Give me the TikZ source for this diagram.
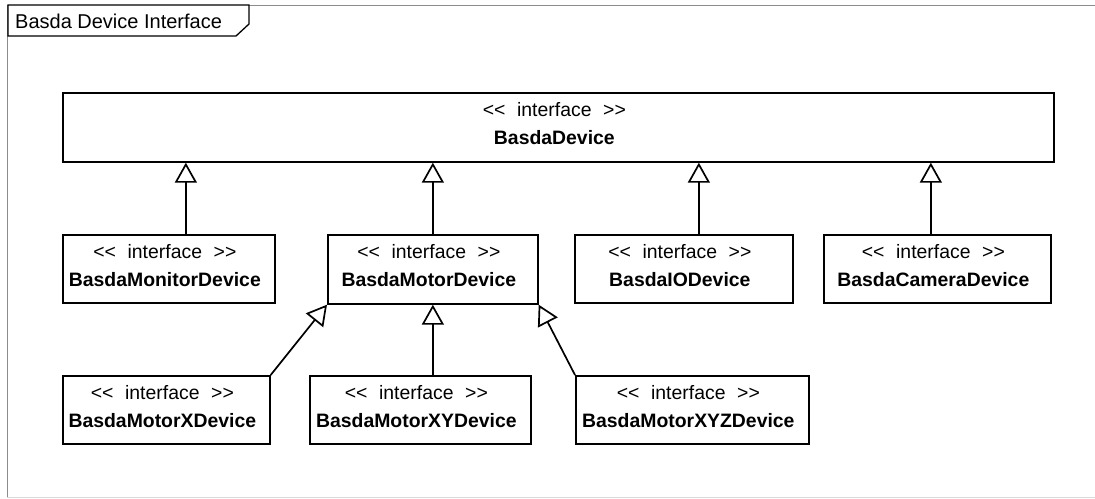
\documentclass[tikz,border=0pt]{standalone}
\usepackage{fontspec}
\setmainfont{Liberation Sans}
\usetikzlibrary{arrows.meta}
\tikzset{
  cls/.style={draw=black, line width=1.7pt, fill=white, rectangle, anchor=north west, inner sep=0pt},
  stereo/.style={anchor=base, inner sep=0pt, xshift=-4pt, font=\fontsize{19.4}{23}\selectfont},
  cname/.style={anchor=base, inner sep=0pt, xshift=-4pt, font=\fontsize{19.4}{23}\selectfont\bfseries},
  gen/.style={draw=black, line width=1.7pt, -{Triangle[open, length=20pt, width=22pt, line width=1.7pt]}},
}
\newcommand{\stereotxt}{<\kern0pt<\hspace{0.6em}interface\hspace{0.6em}>\kern0pt>}
\begin{document}
\begin{tikzpicture}[x=1pt, y=-1pt]
\useasboundingbox (0,0) rectangle (1095,498);
% frame
\draw[draw=black!45, line width=1pt] (1095,5) -- (7,5) -- (7,497);
\draw[draw=black!15, line width=1pt] (7,497) -- (1095,497);
\draw[line width=1.3pt, fill=white] (8,5) -- (249,5) -- (249,24) -- (236,36) -- (8,36) -- cycle;
\node[anchor=base west, inner sep=0pt, font=\fontsize{20}{24}\selectfont] (title) at (15,28) {Basda Device Interface};
% classes
\node[cls, minimum width=991, minimum height=69] (dev) at (62,92) {};
\node[stereo] (devs) at ([yshift=-24]dev.north) {\stereotxt};
\node[cname] (devn) at ([yshift=-52]dev.north) {BasdaDevice};

\node[cls, minimum width=212, minimum height=68] (mon) at (62,234) {};
\node[stereo] (mons) at ([yshift=-24]mon.north) {\stereotxt};
\node[cname] (monn) at ([yshift=-52]mon.north) {BasdaMonitorDevice};

\node[cls, minimum width=210, minimum height=69] (mot) at (327,234) {};
\node[stereo] (mots) at ([yshift=-24]mot.north) {\stereotxt};
\node[cname] (motn) at ([yshift=-52]mot.north) {BasdaMotorDevice};

\node[cls, minimum width=218, minimum height=68] (io) at (574,234) {};
\node[stereo] (ios) at ([yshift=-24]io.north) {\stereotxt};
\node[cname] (ion) at ([yshift=-52]io.north) {BasdaIODevice};

\node[cls, minimum width=227, minimum height=68] (cam) at (823,234) {};
\node[stereo] (cams) at ([yshift=-24]cam.north) {\stereotxt};
\node[cname] (camn) at ([yshift=-52]cam.north) {BasdaCameraDevice};

\node[cls, minimum width=207, minimum height=68] (mx) at (62,375) {};
\node[stereo] (mxs) at ([yshift=-24]mx.north) {\stereotxt};
\node[cname] (mxn) at ([yshift=-52]mx.north) {BasdaMotorXDevice};

\node[cls, minimum width=221, minimum height=68] (mxy) at (309,375) {};
\node[stereo] (mxys) at ([yshift=-24]mxy.north) {\stereotxt};
\node[cname] (mxyn) at ([yshift=-52]mxy.north) {BasdaMotorXYDevice};

\node[cls, minimum width=233, minimum height=68] (mxyz) at (575,375) {};
\node[stereo] (mxyzs) at ([yshift=-24]mxyz.north) {\stereotxt};
\node[cname] (mxyzn) at ([yshift=-52]mxyz.north) {BasdaMotorXYZDevice};

% generalizations
\draw[gen] ([xshift=17]mon.north) -- ([xshift=17]mon.north |- dev.south);
\draw[gen] (mot.north) -- (mot.north |- dev.south);
\draw[gen] ([xshift=15]io.north) -- ([xshift=15]io.north |- dev.south);
\draw[gen] ([xshift=-6.5]cam.north) -- ([xshift=-6.5]cam.north |- dev.south);
\draw[gen] (mx.north east) -- (mot.south west);
\draw[gen] ([xshift=12.5]mxy.north) -- ([xshift=12.5]mxy.north |- mot.south);
\draw[gen] (mxyz.north west) -- (mot.south east);
\end{tikzpicture}
\end{document}
